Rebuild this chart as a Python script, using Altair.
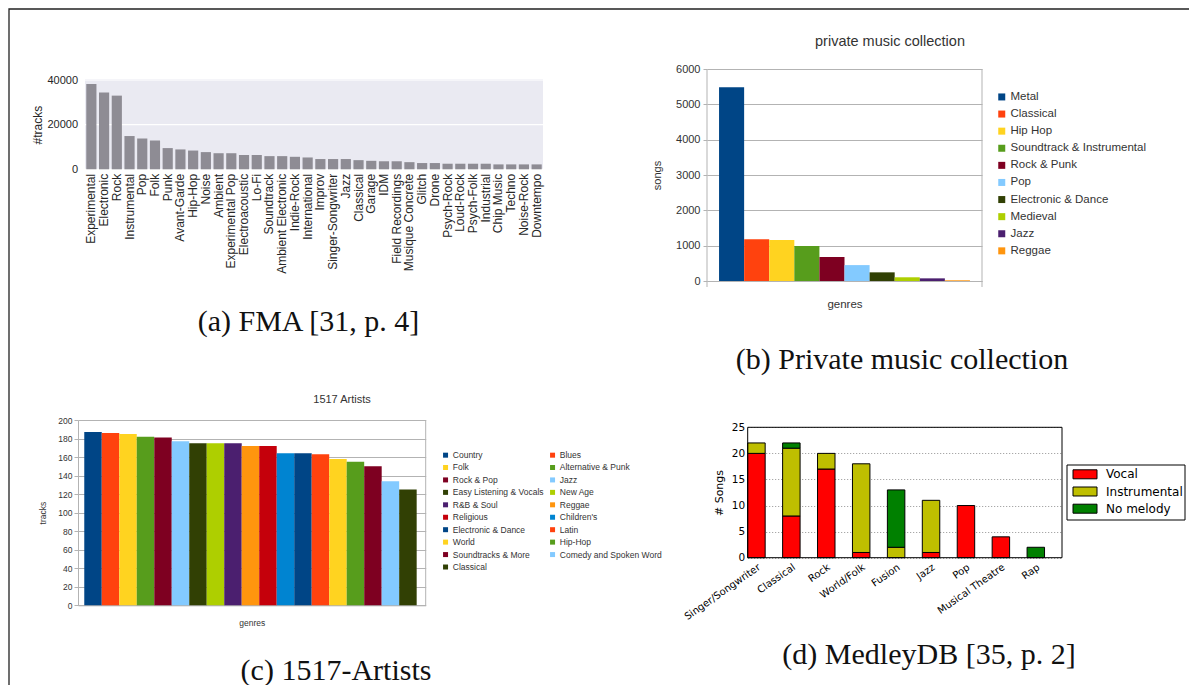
import altair as alt
import pandas as pd

# ---------------- data ----------------
fma_genres = ["Experimental", "Electronic", "Rock", "Instrumental", "Pop", "Folk", "Punk",
              "Avant-Garde", "Hip-Hop", "Noise", "Ambient", "Experimental Pop", "Electroacoustic",
              "Lo-Fi", "Soundtrack", "Ambient Electronic", "Indie-Rock", "International", "Improv",
              "Singer-Songwriter", "Jazz", "Classical", "Garage", "IDM", "Field Recordings",
              "Musique Concrete", "Glitch", "Drone", "Psych-Rock", "Loud-Rock", "Psych-Folk",
              "Industrial", "Chip Music", "Techno", "Noise-Rock", "Downtempo"]
fma_tracks = [38200, 34400, 33000, 14900, 13800, 12900, 9500, 8900, 8400, 7700, 7200, 7200,
              6400, 6400, 5900, 5900, 5600, 5300, 4600, 4600, 4600, 4100, 3800, 3600, 3600,
              3200, 2800, 2800, 2500, 2500, 2500, 2500, 2200, 2200, 2200, 2200]
fma_ticks = [0, 20000, 40000]

pmc_genres = ["Metal", "Classical", "Hip Hop", "Soundtrack & Instrumental", "Rock & Punk", "Pop",
              "Electronic & Dance", "Medieval", "Jazz", "Reggae"]
pmc_songs = [5480, 1180, 1160, 990, 680, 450, 245, 105, 75, 20]
pmc_ticks = [0, 1000, 2000, 3000, 4000, 5000, 6000]

lo_colors = ["#004586", "#ff420e", "#ffd320", "#579d1c", "#7e0021", "#83caff",
             "#314004", "#aecf00", "#4b1f6f", "#ff950e", "#c5000b", "#0084d1"]

art_genres = ["Country", "Blues", "Folk", "Alternative & Punk", "Rock & Pop", "Jazz",
              "Easy Listening & Vocals", "New Age", "R&B & Soul", "Reggae", "Religious",
              "Children's", "Electronic & Dance", "Latin", "World", "Hip-Hop",
              "Soundtracks & More", "Comedy and Spoken Word", "Classical"]
art_tracks = [187, 186, 185, 182, 181, 177, 175, 175, 175, 172, 172, 164, 164, 163, 158, 155,
              150, 134, 125]
art_ticks = [0, 20, 40, 60, 80, 100, 120, 140, 160, 180, 200]

medley_genres = ["Singer/Songwriter", "Classical", "Rock", "World/Folk", "Fusion", "Jazz",
                 "Pop", "Musical Theatre", "Rap"]
medley_types = ["Vocal", "Instrumental", "No melody"]
medley_vocal = [20, 8, 17, 1, 0, 1, 10, 4, 0]
medley_instrumental = [2, 13, 3, 17, 2, 10, 0, 0, 0]
medley_nomelody = [0, 1, 0, 0, 11, 0, 0, 0, 2]
medley_colors = ["#ff0000", "#bfbf00", "#008000"]
medley_ticks = [0, 5, 10, 15, 20, 25]

captions = ["(a) FMA [31, p. 4]", "(b) Private music collection",
            "(c) 1517-Artists", "(d) MedleyDB [35, p. 2]"]

# ---------------- layout helpers ----------------
W, H = 1181, 677
M = 8  # page margin


def px(v):
    return v - M


one = pd.DataFrame({"k": [0]})
SANS = "Liberation Sans"
SERIF = "Liberation Serif"
DJ = "DejaVu Sans"


def text_mark(txt, x, y, size, font=SANS, color="#333333"):
    return alt.Chart(one).mark_text(font=font, fontSize=size, align="center",
                                    baseline="middle", color=color).encode(
        x=alt.value(px(x)), y=alt.value(px(y)), text=alt.value(txt))


def vrule(x, y1, y2, color, width=1):
    return alt.Chart(one).mark_rule(color=color, strokeWidth=width).encode(
        x=alt.value(px(x)), y=alt.value(px(y1)), y2=alt.value(px(y2)))


# ---------------- panel (a) ----------------
a_df = pd.DataFrame({"genre": fma_genres, "tracks": fma_tracks})
a_x = alt.Scale(domain=fma_genres, range=[px(85), px(543)], paddingInner=0.2, paddingOuter=0.1)
a_y = alt.Scale(domain=[0, 40000], range=[px(169.3), px(80)], nice=False)
a_yaxis = alt.Axis(orient="left", offset=-px(85), values=fma_ticks, format="d",
                   title="#tracks", titleFont=SANS, titleFontSize=12,
                   titleFontWeight="normal", titleColor="#262626", titlePadding=2,
                   labelFontSize=11, labelFont=SANS, labelColor="#262626",
                   labelPadding=7.5, ticks=False, domain=False, grid=False)
a_bg = alt.Chart(one).mark_rect(color="#eaeaf2").encode(
    x=alt.value(px(85)), x2=alt.value(px(543)), y=alt.value(px(79)), y2=alt.value(px(169.3)))
a_grid = alt.Chart(pd.DataFrame({"tracks": fma_ticks})).mark_rule(
    color="white", strokeWidth=1.2).encode(
    y=alt.Y("tracks:Q", scale=a_y, axis=a_yaxis), x=alt.value(px(85)), x2=alt.value(px(543)))
a_bars = alt.Chart(a_df).mark_bar(color="#8e8c94").encode(
    x=alt.X("genre:N", sort=None, scale=a_x,
            axis=alt.Axis(orient="bottom", offset=px(169.3) - H, title=None, labelAngle=270,
                          labelAlign="right", labelBaseline="middle", labelPadding=4,
                          ticks=False, domain=False, labelFontSize=12, labelFont=SANS,
                          labelColor="#262626", labelOverlap=False, labelLimit=0)),
    y=alt.Y("tracks:Q", scale=a_y, axis=a_yaxis))
panel_a = alt.layer(a_bg, a_grid, a_bars)

# ---------------- panel (b) ----------------
b_df = pd.DataFrame({"genre": pmc_genres, "songs": pmc_songs})
b_x = alt.Scale(domain=pmc_genres, range=[px(707), px(982)], paddingInner=0, paddingOuter=0.48)
b_y = alt.Scale(domain=[0, 6000], range=[px(281), px(69)], nice=False)
b_bars = alt.Chart(b_df).mark_bar().encode(
    x=alt.X("genre:N", sort=None, scale=b_x,
            axis=alt.Axis(orient="bottom", offset=px(281) - H, labels=False, ticks=False,
                          domain=True, domainColor="#b3b3b3", title="genres",
                          titleFont=SANS, titleFontSize=11.5, titleFontWeight="normal",
                          titleColor="#333333", titlePadding=17, grid=False)),
    y=alt.Y("songs:Q", scale=b_y,
            axis=alt.Axis(orient="left", offset=-px(707), values=pmc_ticks, format="d",
                          grid=True, gridColor="#b3b3b3", domain=False, tickSize=4,
                          tickColor="#b3b3b3", labelPadding=3, labelFontSize=11,
                          labelFont=SANS, labelColor="#333333", title="songs",
                          titleFont=SANS, titleFontSize=11, titleFontWeight="normal",
                          titleColor="#333333", titlePadding=13)),
    color=alt.Color("genre:N", sort=None,
                    scale=alt.Scale(domain=pmc_genres, range=lo_colors[:10]),
                    legend=alt.Legend(orient="none", legendX=px(996), legendY=px(91.2),
                                      title=None, symbolType="square", symbolSize=49,
                                      symbolStrokeWidth=0, labelFontSize=11.5,
                                      labelFont=SANS, labelColor="#333333", labelOffset=3,
                                      rowPadding=4.1, padding=0, labelLimit=0)))
panel_b = alt.layer(b_bars, vrule(707, 69, 287, "#b3b3b3"), vrule(982, 69, 287, "#b3b3b3"))

# ---------------- panel (c) ----------------
c_df = pd.DataFrame({"genre": art_genres, "tracks": art_tracks})
c_x = alt.Scale(domain=art_genres, range=[px(78), px(425.7)], paddingInner=0,
                paddingOuter=0.437, align=0.41)
c_y = alt.Scale(domain=[0, 200], range=[px(605.3), px(420)], nice=False)
art_colors = lo_colors + lo_colors[:7]
c_bars = alt.Chart(c_df).mark_bar().encode(
    x=alt.X("genre:N", sort=None, scale=c_x,
            axis=alt.Axis(orient="bottom", offset=px(605.3) - H, labels=False, ticks=False,
                          domain=True, domainColor="#b3b3b3", title="genres",
                          titleFont=SANS, titleFontSize=8.5, titleFontWeight="normal",
                          titleColor="#333333", titlePadding=13, grid=False)),
    y=alt.Y("tracks:Q", scale=c_y,
            axis=alt.Axis(orient="left", offset=-px(78), values=art_ticks, format="d",
                          grid=True, gridColor="#b3b3b3", domain=True, domainColor="#b3b3b3",
                          tickSize=4, tickColor="#b3b3b3", labelPadding=2, labelFontSize=8.5,
                          labelFont=SANS, labelColor="#333333", title="tracks",
                          titleFont=SANS, titleFontSize=8.5, titleFontWeight="normal",
                          titleColor="#333333", titlePadding=10)),
    color=alt.Color("genre:N", sort=None,
                    scale=alt.Scale(domain=art_genres, range=art_colors),
                    legend=alt.Legend(orient="none", legendX=px(441.3), legendY=px(450.8),
                                      title=None, columns=2, direction="horizontal",
                                      symbolType="square",
                                      symbolSize=25, symbolStrokeWidth=0, labelFontSize=8.5,
                                      labelFont=SANS, labelColor="#333333", labelOffset=3,
                                      rowPadding=3.44, columnPadding=4, padding=0,
                                      labelLimit=0)))
panel_c = alt.layer(c_bars, vrule(425.7, 420, 605.3, "#b3b3b3"))

# ---------------- panel (d) ----------------
rows = []
for i, g in enumerate(medley_genres):
    for j, (t, vals) in enumerate(zip(medley_types,
                                      [medley_vocal, medley_instrumental, medley_nomelody])):
        if vals[i] > 0:
            rows.append({"genre": g, "type": t, "count": vals[i], "ord": j})
d_df = pd.DataFrame(rows)
d_x = alt.Scale(domain=medley_genres, range=[px(747.7), px(1062)], paddingInner=0.5,
                paddingOuter=0.25, align=0)
d_y = alt.Scale(domain=[0, 25], range=[px(557.7), px(427.3)], nice=False)
d_color = alt.Scale(domain=medley_types, range=medley_colors)
d_bars = alt.Chart(d_df).mark_bar(stroke="black", strokeWidth=1).encode(
    x=alt.X("genre:N", sort=None, scale=d_x,
            axis=alt.Axis(orient="bottom", offset=px(557.7) - H, title=None, labelAngle=325,
                          labelAlign="right", labelBaseline="top", labelPadding=4,
                          ticks=False, domain=False, labelFontSize=10, labelFont=DJ,
                          labelColor="black", labelOverlap=False, labelLimit=0)),
    y=alt.Y("count:Q", stack="zero", scale=d_y,
            axis=alt.Axis(orient="left", offset=-px(747.7), values=medley_ticks, format="d",
                          grid=True, gridDash=[1, 2], gridColor="#777777", gridWidth=0.8,
                          domain=False, ticks=False, labelFontSize=10.5, labelFont=DJ,
                          labelColor="black", labelPadding=3, title="# Songs",
                          titleFont=DJ, titleFontSize=11, titleFontWeight="normal",
                          titleColor="black", titlePadding=7)),
    color=alt.Color("type:N", sort=None, scale=d_color, legend=None),
    order=alt.Order("ord:Q", sort="ascending"))
d_frame = alt.Chart(one).mark_rect(fillOpacity=0, stroke="black", strokeWidth=1).encode(
    x=alt.value(px(747.7)), x2=alt.value(px(1062)), y=alt.value(px(427.3)),
    y2=alt.value(px(557.7)))
panel_d = alt.layer(d_bars, d_frame)

# legend of (d), matplotlib style: a boxed list with wide swatches
d_leg_df = pd.DataFrame({"type": medley_types})
d_leg_y = alt.Scale(domain=medley_types, range=[px(465.7), px(517.3)],
                    paddingInner=0.477, paddingOuter=0.2385)
d_leg_box = alt.Chart(one).mark_rect(fill="white", stroke="black", strokeWidth=1).encode(
    x=alt.value(px(1067)), x2=alt.value(px(1185)), y=alt.value(px(465)), y2=alt.value(px(520)))
d_leg_sw = alt.Chart(d_leg_df).mark_rect(stroke="black", strokeWidth=1).encode(
    y=alt.Y("type:N", sort=None, scale=d_leg_y, axis=None),
    x=alt.value(px(1073)), x2=alt.value(px(1097)),
    color=alt.Color("type:N", sort=None, scale=d_color, legend=None))
d_leg_tx = alt.Chart(d_leg_df).mark_text(align="left", baseline="middle", font=DJ,
                                         fontSize=12, color="black").encode(
    y=alt.Y("type:N", sort=None, scale=d_leg_y, axis=None),
    x=alt.value(px(1106)), text="type:N")
d_legend = alt.layer(d_leg_box, d_leg_sw, d_leg_tx)

# ---------------- decorations: titles, captions, outer frame ----------------
frame = alt.Chart(one).mark_rect(fillOpacity=0, stroke="#222222", strokeWidth=1.3).encode(
    x=alt.value(1), y=alt.value(1), x2=alt.value(1400), y2=alt.value(900))
deco = alt.layer(
    frame,
    text_mark("private music collection", 890, 42, 14.5),
    text_mark("1517 Artists", 342, 400, 11),
    text_mark(captions[0], 308.5, 322, 30, SERIF, "#111111"),
    text_mark(captions[1], 902, 360, 30, SERIF, "#111111"),
    text_mark(captions[2], 336, 671, 30, SERIF, "#111111"),
    text_mark(captions[3], 929, 655, 30, SERIF, "#111111"),
)

chart = alt.layer(panel_a, panel_b, panel_c, panel_d, d_legend, deco).resolve_scale(
    x="independent", y="independent", color="independent"
).resolve_axis(
    x="independent", y="independent"
).resolve_legend(
    color="independent"
).properties(
    width=W, height=H, autosize=alt.AutoSizeParams(type="none"), padding=0,
    background="white"
).configure_view(stroke=None)

chart.save("out.html", embed_options={"renderer": "svg", "actions": False})
